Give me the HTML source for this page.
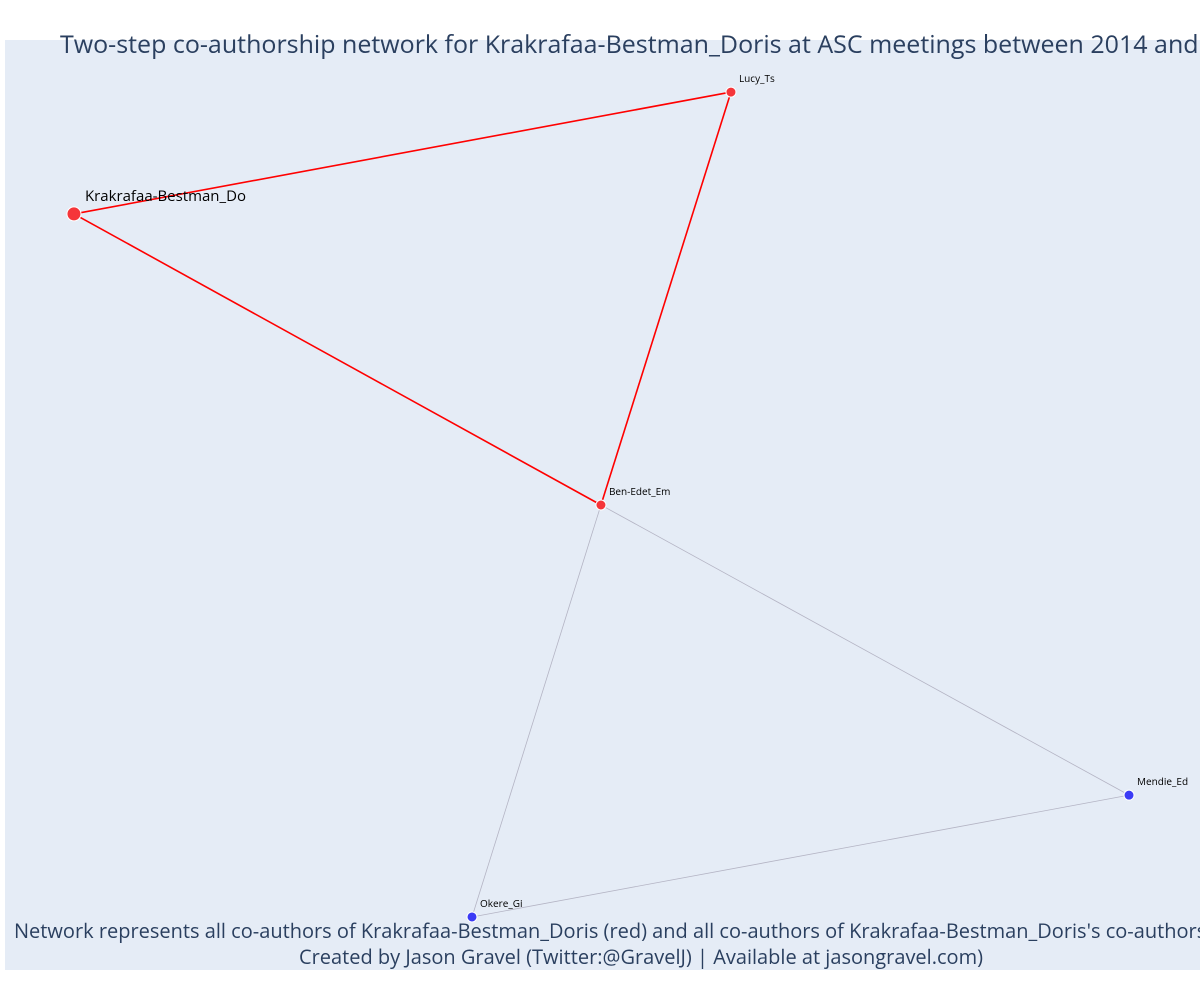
<!DOCTYPE html>
<html><head><meta charset="utf-8"><style>
html,body{margin:0;padding:0;background:#fff;}
svg{display:block;font-family:"Open Sans","Liberation Sans",sans-serif;}
</style></head><body>
<svg id="chart" width="1200" height="1000" viewBox="0 0 1200 1000">
<rect x="5" y="40" width="1195" height="930" fill="#e5ecf6"/>
<g id="edges"></g>
<g id="nodes"></g>
<text x="60" y="53" font-size="25" fill="#2a3f5f">Two-step co-authorship network for Krakrafaa-Bestman_Doris at ASC meetings between 2014 and 2019</text>
<text x="14" y="938" font-size="20" fill="#2a3f5f">Network represents all co-authors of Krakrafaa-Bestman_Doris (red) and all co-authors of Krakrafaa-Bestman_Doris's co-authors (blue)</text>
<text x="641" y="964" font-size="20" fill="#2a3f5f" text-anchor="middle">Created by Jason Gravel (Twitter:@GravelJ) | Available at jasongravel.com)</text>
</svg>
<script>
const nodeNames = ["Krakrafaa-Bestman_Do","Lucy_Ts","Ben-Edet_Em","Mendie_Ed","Okere_Gi"];
const nodeX = [0.0577,0.6075,0.4987,0.9406,0.3908];
const nodeY = [0.187,0.056,0.500,0.812,0.943];
const nodeGroup = ["ego","red","red","blue","blue"];
const edgeFrom = [0,0,1,2,2,3];
const edgeTo = [1,2,2,4,3,4];
const edgeRed = [true,true,true,false,false,false];

const NS="http://www.w3.org/2000/svg";
function xScale(v){return 5+v*1195;}
function yScale(v){return 40+v*930;}
const eg=document.getElementById('edges'), ng=document.getElementById('nodes');
for(let i=0;i<edgeFrom.length;i++){
  const a=edgeFrom[i], b=edgeTo[i];
  const l=document.createElementNS(NS,'line');
  
  
  l.setAttribute('x1',xScale(nodeX[a]));l.setAttribute('y1',yScale(nodeY[a]));
  l.setAttribute('x2',xScale(nodeX[b]));l.setAttribute('y2',yScale(nodeY[b]));
  l.setAttribute('stroke',edgeRed[i]?'#ff0000':'#b4b4c4');
  l.setAttribute('stroke-width',edgeRed[i]?1.6:0.8);
  eg.appendChild(l);
}
for(let i=0;i<nodeNames.length;i++){
  const cx=xScale(nodeX[i]), cy=yScale(nodeY[i]);
  const c=document.createElementNS(NS,'circle');
  
  
  c.setAttribute('cx',cx);c.setAttribute('cy',cy);
  c.setAttribute('r',nodeGroup[i]==='ego'?7:5);
  c.setAttribute('fill',nodeGroup[i]==='blue'?'#3b3bf5':'#f5353a');
  c.setAttribute('stroke','#ffffff');c.setAttribute('stroke-width',1);
  ng.appendChild(c);
  const t=document.createElementNS(NS,'text');
  
  
  const big=nodeGroup[i]==='ego';
  t.setAttribute('x',cx+(big?11:8));t.setAttribute('y',cy-(big?13:10));
  t.setAttribute('font-size',big?15:10);t.setAttribute('fill','#000');
  t.textContent=nodeNames[i];
  ng.appendChild(t);
}
</script>
</body></html>
